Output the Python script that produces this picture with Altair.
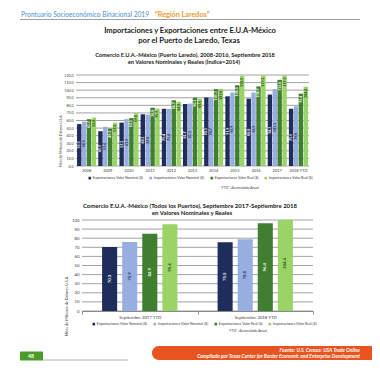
import altair as alt
import pandas as pd

# ---------------- data ----------------
years = ["2008", "2009", "2010", "2011", "2012", "2013", "2014", "2015", "2016", "2017", "2018 YTD"]
series = ["Exportaciones Valor Nominal ($)", "Importaciones Valor Nominal ($)",
          "Exportaciones Valor Real ($)", "Importaciones Valor Real ($)"]
exp_nom = [55.3, 45.9, 57.2, 68.2, 75.4, 81.7, 90.3, 91.9, 88.8, 94.2, 75.5]
imp_nom = [58.5, 51.6, 61.9, 67.8, 75.4, 82.3, 90.7, 96.9, 96.9, 101.3, 78.8]
exp_real = [61.7, 49.3, 63.2, 76.8, 86.7, 90.1, 101.3, 106.5, 104.9, 113.6, 95.4]
imp_real = [63.8, 57.0, 69.8, 75.6, 84.8, 88.6, 101.8, 118.9, 119.3, 119.5, 104.4]
y1_ticks = [0, 10, 20, 30, 40, 50, 60, 70, 80, 90, 100, 110, 120]

periods = ["Septiembre 2017 YTD", "Septiembre 2018 YTD"]
exp_nom2 = [70.3, 75.5]
imp_nom2 = [75.9, 78.8]
exp_real2 = [84.9, 96.4]
imp_real2 = [95.4, 104.4]
y2_ticks = [0, 10, 20, 30, 40, 50, 60, 70, 80, 90, 100]

colors = ["#1f2d5c", "#98aee0", "#3f7f2f", "#9ad467"]
label_colors = ["#ffffff", "#1f2d5c", "#ffffff", "#1f4a14"]

FONT = "Lato"
X0, Y0 = 76, 75          # page position of the view origin


def px(x):
    return x - X0


def py(y):
    return y - Y0


def long_df(cats, cols):
    rows = []
    for ci, c in enumerate(cats):
        for si, s in enumerate(series):
            v = cols[si][ci]
            rows.append({"cat": c, "series": s, "value": v, "mid": v / 2})
    return pd.DataFrame(rows)


df1 = long_df(years, [exp_nom, imp_nom, exp_real, imp_real])
df2 = long_df(periods, [exp_nom2, imp_nom2, exp_real2, imp_real2])
one = pd.DataFrame({"a": [0]})


def txt(text, x, y, size, color="#333333", weight="normal", align="center",
        style="normal", angle=0):
    return alt.Chart(one).mark_text(
        text=text, fontSize=size, color=color, fontWeight=weight, align=align,
        baseline="middle", fontStyle=style, angle=angle, font=FONT
    ).encode(x=alt.value(px(x)), y=alt.value(py(y)))


def panel(df, cats, xrange, xpad_in, xpad_out, xo_in, xo_out, ydom, yrange,
          ticks, yfmt, yoffset, xaxis, legx, legy, labsize, greens_at_end, grid_x):
    xscale = alt.Scale(domain=cats, range=xrange, paddingInner=xpad_in, paddingOuter=xpad_out)
    X = alt.X("cat:N", sort=cats, scale=xscale, axis=xaxis)
    XO = alt.XOffset("series:N", sort=series,
                     scale=alt.Scale(domain=series, paddingInner=xo_in, paddingOuter=xo_out))
    yscale = alt.Scale(domain=ydom, range=yrange, clamp=True, nice=False)
    yaxis = alt.Axis(orient="left", values=ticks, format=yfmt, grid=False, domain=False,
                     ticks=False, tickSize=0, labelPadding=3, labelFontSize=labsize,
                     labelColor="#404040", title=None, offset=yoffset, labelFont=FONT,
                     zindex=1)
    grid = alt.Chart(pd.DataFrame({"v": ticks})).mark_rule(
        color="#8a8a8a", strokeWidth=0.8
    ).encode(y=alt.Y("v:Q", scale=yscale, axis=yaxis),
             x=alt.value(grid_x[0]), x2=alt.value(grid_x[1]))
    bars = alt.Chart(df).mark_bar().encode(
        x=X, xOffset=XO,
        y=alt.Y("value:Q", scale=yscale, axis=yaxis),
        color=alt.Color("series:N", sort=series,
                        scale=alt.Scale(domain=series, range=colors),
                        legend=alt.Legend(orient="none", legendX=legx, legendY=legy,
                                          direction="horizontal", title=None,
                                          labelFontSize=3.6, labelFont=FONT,
                                          labelColor="#404040", symbolType="square",
                                          symbolSize=7, symbolStrokeWidth=0,
                                          labelOffset=1.2, columnPadding=5,
                                          padding=0, labelLimit=200)),
    )
    layers = [grid, bars]
    for i, s in enumerate(series):
        at_end = greens_at_end and i >= 2
        lab = alt.Chart(df).transform_filter(
            alt.datum.series == s
        ).mark_text(
            angle=270, fontSize=labsize, fontWeight="bold", color=label_colors[i],
            align="right" if at_end else "center", baseline="middle",
            dx=-2 if at_end else 0, font=FONT
        ).encode(
            x=X, xOffset=XO,
            y=alt.Y("value:Q" if at_end else "mid:Q", scale=yscale, axis=yaxis),
            text=alt.Text("value:Q", format=".1f"),
        )
        layers.append(lab)
    return layers


# ---------------- chart 1 (Puerto Laredo) ----------------
c1 = panel(df1, years, [0, 233], 0.1, 0.05, 0.1, 0.0, [0, 120], [py(166), py(75)],
           y1_ticks, ".1f", 0, None, px(88), py(176), 3.6, True, [0, 233])
cat1 = alt.Chart(pd.DataFrame({"cat": years})).mark_text(
    fontSize=4, color="#404040", baseline="middle", font=FONT
).encode(
    x=alt.X("cat:N", sort=years,
            scale=alt.Scale(domain=years, range=[0, 233], paddingInner=0.1, paddingOuter=0.05),
            axis=None),
    y=alt.value(py(170.5)),
    text="cat:N",
)
chart1 = alt.layer(*c1, cat1)

# ---------------- chart 2 (Todos los Puertos) ----------------
xaxis2 = alt.Axis(orient="bottom", title=None, labelFontSize=4.3, labelPadding=1.5,
                  labelAngle=0, tickBand="extent", ticks=True, tickSize=3,
                  tickColor="#8a8a8a", domain=True, domainColor="#8a8a8a",
                  labelColor="#404040", labelFont=FONT, zindex=1)
c2 = panel(df2, periods, [px(82), px(313)], 0.0, 0.0, 0.25, 1.0, [0, 100],
           [py(311), py(220)], y2_ticks, "d", -6, xaxis2, px(92), py(322), 4.3, False,
           [px(82), px(313)])
chart2 = alt.layer(*c2)

# ---------------- page decorations ----------------
bg = alt.Chart(one).mark_rect(color="white").encode(
    x=alt.value(px(8)), x2=alt.value(px(372)), y=alt.value(py(8)), y2=alt.value(py(360)))
head_line = alt.Chart(one).mark_rule(color="#a0a0a0", strokeWidth=1).encode(
    x=alt.value(px(20)), x2=alt.value(px(360)), y=alt.value(py(19.5)))
band = alt.Chart(one).mark_rect(color="#e9541e", cornerRadiusTopLeft=7,
                                cornerRadiusBottomLeft=7).encode(
    x=alt.value(px(152)), x2=alt.value(px(372)), y=alt.value(py(346)), y2=alt.value(py(360)))
pg_tag = alt.Chart(one).mark_rect(color="#4c9a2a", cornerRadius=1).encode(
    x=alt.value(px(20)), x2=alt.value(px(43)), y=alt.value(py(351.5)), y2=alt.value(py(360.5)))
pg_line = alt.Chart(one).mark_rule(color="#a0a0a0", strokeWidth=0.8).encode(
    x=alt.value(px(43)), x2=alt.value(px(128)), y=alt.value(py(360)))

deco = [
    bg, head_line,
    txt("Prontuario Socioeconómico Binacional 2019", 21, 15, 6.6, "#4a90d0", align="left"),
    txt("\u201cRegión Laredos\u201d", 155, 14.6, 7.2, "#f29a2e", weight="bold", align="left"),
    txt("Importaciones y Exportaciones entre E.U.A-México", 190, 30.5, 7.6, "#222222", "bold"),
    txt("por el Puerto de Laredo, Texas", 189, 40.5, 7.6, "#222222", "bold"),
    txt("Comercio E.U.A.-México (Puerto Laredo), 2008-2016, Septiembre 2018", 185, 55, 5.7,
        "#222222", "bold"),
    txt("en Valores Nominales y Reales (Índice=2014)", 184, 62, 5.7, "#222222", "bold"),
    txt("Miles de Millones de Dólares U.S.A.", 61, 141, 3.4, "#404040", angle=270),
    txt("YTD*: Acumulado Anual", 240, 188, 3.6, "#404040"),
    txt("Comercio E.U.A.-México (Todos los Puertos), Septiembre 2017-Septiembre 2018", 190,
        206, 6.0, "#222222", "bold"),
    txt("en Valores Nominales y Reales", 192, 213, 6.0, "#222222", "bold"),
    txt("Miles de Millones de Dólares U.S.A.", 67, 306, 3.9, "#404040", angle=270),
    txt("YTD*: Acumulado Anual", 248, 331, 3.6, "#404040"),
    band,
    txt("Fuente: U.S. Census: USA Trade Online", 360, 349.8, 5.0, "white", "bold",
        "right", "italic"),
    txt("Compilado por Texas Center for Border Economic and Enterprise Development", 360,
        356.3, 5.0, "white", "bold", "right", "italic"),
    pg_tag, pg_line,
    txt("48", 31, 356, 5.2, "white", "bold"),
]

chart = alt.layer(*deco[:1], chart1, chart2, *deco[1:]).resolve_scale(
    x="independent", y="independent", xOffset="independent", color="independent"
).properties(
    width=233, height=236, padding=0, background="white"
).configure_view(stroke=None).configure(font=FONT)

chart.save("out.html", embed_options={"renderer": "svg", "actions": False})
